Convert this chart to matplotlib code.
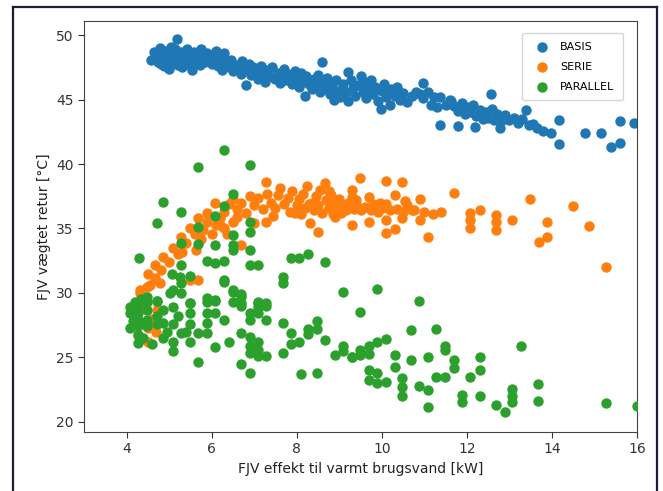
import matplotlib
matplotlib.use("Agg")
import matplotlib.pyplot as plt
from matplotlib.lines import Line2D

# ---------------- data ----------------
basis_x = [4.57, 4.72, 4.75, 4.78, 4.85, 4.88, 4.90, 4.95, 5.00, 5.02, 5.05, 5.10, 5.12, 5.15, 5.19,
           5.20, 5.22, 5.28, 5.30, 5.35, 5.38, 5.42, 5.45, 5.50, 5.55, 5.58, 5.62, 5.68, 5.72, 5.75,
           5.80, 5.85, 5.88, 5.92, 6.00, 6.05, 6.10, 6.15, 6.20, 6.25, 6.28, 6.32, 6.40, 6.45, 6.50,
           6.55, 6.62, 6.68, 6.72, 6.80, 6.82, 6.88, 6.92, 6.98, 7.05, 7.10, 7.15, 7.20, 7.25, 7.30,
           7.35, 7.42, 7.48, 7.55, 7.60, 7.65, 7.70, 7.75, 7.80, 7.86, 7.90, 7.95, 8.00, 8.05, 8.10,
           8.15, 8.19, 8.22, 8.28, 8.35, 8.40, 8.45, 8.50, 8.55, 8.60, 8.62, 8.68, 8.72, 8.78, 8.82,
           8.88, 8.92, 8.98, 9.02, 9.10, 9.15, 9.21, 9.21, 9.28, 9.32, 9.38, 9.45, 9.50, 9.55, 9.60,
           9.62, 9.68, 9.75, 9.80, 9.85, 9.92, 9.99, 10.00, 10.05, 10.10, 10.19, 10.22, 10.30, 10.35, 10.42,
           10.50, 10.60, 10.70, 10.81, 10.90, 10.97, 10.97, 11.08, 11.15, 11.22, 11.30, 11.36, 11.36, 11.50, 11.60,
           11.62, 11.70, 11.79, 11.80, 11.88, 11.95, 12.00, 12.08, 12.15, 12.18, 12.22, 12.30, 12.38, 12.45, 12.50,
           12.57, 12.60, 12.65, 12.72, 12.77, 12.80, 12.90, 13.00, 13.10, 13.20, 13.30, 13.40, 13.45, 13.55, 13.65,
           13.79, 13.98, 14.17, 14.17, 14.77, 15.16, 15.39, 15.59, 15.59, 15.94, 4.65, 4.82, 5.25, 5.65, 6.35]
basis_y = [48.1, 48.5, 47.9, 49.0, 48.3, 47.6, 48.8, 48.1, 47.4, 48.6, 49.1, 47.9, 48.4, 48.9, 49.74,
           47.7, 48.2, 48.7, 47.5, 48.0, 48.5, 48.9, 47.8, 48.3, 47.3, 48.7, 48.0, 48.5, 47.7, 48.9,
           48.2, 47.9, 48.6, 48.1, 47.8, 48.4, 48.8, 47.6, 48.2, 47.3, 48.6, 47.9, 47.5, 48.1, 47.2,
           47.7, 47.5, 47.0, 48.0, 46.1, 47.4, 47.8, 46.9, 47.5, 47.1, 46.6, 47.6, 47.0, 46.4, 47.3,
           46.8, 47.5, 46.6, 47.1, 46.3, 46.9, 47.4, 46.5, 47.0, 46.7, 46.2, 47.2, 46.6, 46.0, 47.1,
           46.4, 45.3, 46.8, 46.2, 45.8, 46.6, 46.0, 46.9, 45.6, 47.9, 46.3, 45.9, 46.7, 45.4, 46.1,
           45.0, 46.5, 45.7, 45.2, 46.2, 45.6, 47.15, 44.9, 46.5, 45.9, 45.3, 46.1, 46.8, 45.6, 46.4,
           45.1, 45.8, 46.5, 45.4, 46.0, 44.9, 44.24, 45.7, 46.2, 45.2, 44.57, 45.8, 45.3, 46.0, 45.0,
           45.5, 44.8, 45.3, 45.6, 45.4, 46.26, 45.1, 45.6, 44.6, 45.2, 44.4, 43.02, 45.2, 44.6, 44.96,
           44.9, 44.5, 42.95, 44.1, 44.7, 43.9, 44.4, 44.0, 44.6, 42.84, 43.7, 44.2, 43.5, 44.0, 43.6,
           45.43, 44.3, 43.4, 43.9, 42.76, 43.3, 43.8, 43.4, 43.6, 43.2, 43.5, 44.19, 43.0, 43.1, 42.8,
           42.6, 42.4, 43.4, 41.53, 42.4, 42.4, 41.3, 41.6, 43.3, 43.15, 48.7, 47.8, 48.3, 48.3, 48.0]

serie_x = [4.28, 4.51, 4.71, 4.32, 4.55, 4.78, 4.32, 4.47, 4.40, 4.60, 4.50, 4.70, 4.67, 4.67, 4.86,
           5.10, 5.29, 5.49, 5.69, 5.88, 6.08, 4.50, 4.80, 5.00, 5.20, 5.64, 5.49, 5.69, 5.40, 5.60,
           5.80, 5.90, 6.00, 6.10, 6.19, 6.20, 6.30, 6.35, 6.30, 6.40, 6.50, 6.60, 6.70, 6.70, 6.80,
           6.90, 7.00, 7.10, 7.20, 7.29, 7.29, 7.30, 7.40, 7.50, 7.55, 7.60, 7.70, 7.80, 7.85, 7.90,
           8.00, 8.05, 8.10, 8.15, 8.20, 8.25, 8.31, 8.35, 8.40, 8.45, 8.50, 8.50, 8.55, 8.60, 8.66,
           8.70, 8.75, 8.80, 8.85, 8.89, 8.90, 8.95, 9.00, 9.05, 9.10, 9.15, 9.20, 9.29, 9.29, 9.29,
           9.35, 9.40, 9.48, 9.50, 9.60, 9.70, 9.70, 9.75, 9.80, 9.90, 10.00, 10.09, 10.09, 10.09, 10.10,
           10.20, 10.30, 10.30, 10.35, 10.48, 10.48, 10.50, 10.60, 10.70, 10.76, 10.89, 10.89, 11.00, 11.09, 11.20,
           11.40, 11.69, 12.08, 12.08, 12.08, 12.30, 12.68, 12.68, 12.68, 13.07, 13.49, 13.88, 13.88, 13.69, 14.49,
           14.87, 15.27, 6.50, 6.60, 7.00, 7.45, 7.95, 8.30, 8.75, 9.00, 9.40, 9.95, 10.55, 5.30, 5.75]
serie_y = [26.74, 26.22, 28.68, 30.23, 30.60, 30.75, 29.98, 30.49, 29.3, 28.0, 27.3, 27.0, 31.14, 32.17, 32.81,
           33.46, 34.36, 35.00, 35.80, 36.17, 36.95, 31.5, 31.8, 32.4, 33.0, 33.33, 31.0, 31.0, 33.9, 34.6,
           34.9, 35.5, 34.6, 35.3, 35.3, 35.8, 35.0, 34.6, 36.3, 36.9, 37.3, 36.5, 33.72, 37.0, 36.2,
           37.5, 36.8, 37.4, 36.5, 38.63, 35.53, 37.7, 37.0, 36.6, 37.6, 38.1, 36.9, 37.4, 36.3, 37.9,
           36.8, 37.3, 36.1, 37.7, 36.6, 38.3, 35.4, 37.0, 36.4, 37.5, 34.75, 36.8, 38.0, 36.2, 38.5,
           37.2, 36.6, 37.6, 36.1, 35.9, 37.0, 36.5, 37.3, 36.2, 36.8, 36.4, 37.0, 37.98, 37.47, 35.27,
           36.5, 36.9, 38.89, 36.4, 36.7, 37.47, 35.53, 36.4, 36.9, 36.3, 36.6, 38.68, 35.66, 34.67, 36.9,
           36.4, 37.6, 34.96, 36.5, 38.58, 35.79, 36.3, 36.8, 36.4, 36.43, 37.3, 35.66, 36.3, 34.32, 36.1,
           36.3, 37.73, 36.2, 35.66, 35.0, 36.43, 36.04, 35.53, 34.88, 35.66, 37.26, 35.53, 34.32, 33.98, 36.74,
           35.19, 31.99, 35.5, 35.9, 35.4, 36.0, 36.2, 36.9, 37.9, 36.7, 37.2, 37.0, 37.1, 33.2, 34.2]

parallel_x = [5.69, 6.29, 6.90, 4.86, 4.71, 5.29, 4.30, 6.51, 6.29, 6.08, 5.69, 6.90, 6.90, 6.51, 5.29,
              5.69, 6.08, 6.51, 6.51, 6.90, 5.88, 6.08, 6.29, 5.29, 6.90, 7.09, 7.87, 8.06, 8.27, 8.66,
              5.06, 5.25, 5.49, 6.29, 7.68, 7.68, 6.51, 6.70, 6.51, 6.70, 5.88, 6.08, 5.88, 7.09, 7.29,
              7.09, 9.09, 4.20, 4.35, 4.47, 4.71, 5.02, 5.49, 4.08, 4.08, 4.08, 4.28, 4.28, 4.28, 4.28,
              4.28, 4.28, 4.47, 4.47, 4.47, 4.47, 4.71, 4.71, 4.71, 4.86, 4.86, 5.10, 5.10, 5.10, 4.86,
              5.10, 5.10, 5.29, 5.29, 5.49, 5.49, 5.49, 5.29, 5.49, 5.69, 5.88, 5.88, 5.88, 6.08, 6.08,
              5.69, 6.08, 6.29, 6.29, 6.70, 6.51, 6.70, 6.90, 7.09, 7.09, 7.29, 6.90, 7.29, 6.90, 6.90,
              6.90, 7.09, 7.09, 7.29, 7.09, 6.70, 6.70, 6.90, 7.68, 7.68, 7.87, 8.06, 7.87, 8.27, 8.47,
              8.47, 8.27, 8.66, 8.09, 8.48, 8.89, 9.09, 9.29, 9.48, 9.89, 9.48, 10.88, 9.09, 9.29, 9.48,
              9.70, 9.89, 10.09, 9.70, 10.68, 11.28, 10.30, 10.68, 11.09, 11.48, 11.48, 11.69, 11.69, 12.30, 12.30,
              12.08, 13.28, 9.70, 9.89, 9.70, 9.89, 10.09, 10.30, 10.48, 10.48, 10.48, 10.88, 11.09, 11.09, 11.28,
              11.48, 11.89, 11.89, 12.30, 12.68, 12.89, 13.07, 13.07, 13.07, 13.68, 13.68, 15.27, 16.00, 4.15, 4.38,
              4.60, 4.95, 5.20, 5.40, 6.40]
parallel_y = [39.79, 41.09, 39.92, 37.08, 35.40, 36.30, 32.74, 37.67, 36.74, 35.97, 35.14, 35.53, 34.75, 34.50, 33.85,
              33.80, 33.72, 33.70, 33.30, 33.33, 32.50, 32.30, 32.50, 32.17, 32.17, 32.17, 32.70, 32.70, 33.00, 32.40,
              31.50, 31.20, 31.30, 31.00, 31.26, 30.75, 30.10, 29.70, 29.30, 29.00, 29.60, 29.40, 29.30, 29.30, 29.00,
              28.90, 30.10, 29.30, 29.50, 29.30, 29.40, 29.98, 29.20, 28.94, 28.43, 27.26, 28.94, 28.40, 27.90, 27.40,
              26.70, 26.10, 29.70, 28.70, 27.90, 27.40, 29.40, 28.20, 27.60, 28.68, 27.65, 30.20, 28.90, 27.60, 26.50,
              26.20, 25.45, 30.00, 30.75, 29.20, 28.40, 27.60, 26.90, 26.20, 26.90, 26.90, 27.65, 28.43, 29.46, 28.43,
              24.60, 25.79, 30.88, 27.90, 29.90, 30.20, 29.20, 28.40, 29.20, 28.40, 29.20, 27.90, 27.90, 26.60, 25.90,
              25.30, 26.20, 25.60, 25.10, 25.10, 26.90, 24.50, 23.80, 27.65, 25.30, 26.90, 26.20, 26.00, 27.20, 27.80,
              27.20, 26.80, 26.36, 23.70, 23.80, 25.20, 25.50, 25.00, 25.20, 30.28, 28.55, 29.40, 25.84, 25.00, 25.53,
              25.84, 26.15, 26.40, 25.27, 27.08, 27.18, 25.19, 24.75, 25.00, 25.84, 25.60, 24.75, 24.15, 25.00, 23.98,
              23.50, 25.90, 24.03, 23.78, 23.20, 22.99, 23.05, 24.24, 23.38, 22.69, 22.00, 22.79, 22.43, 21.14, 23.46,
              23.46, 22.09, 21.50, 22.00, 21.32, 20.72, 22.53, 22.00, 21.50, 22.95, 21.57, 21.45, 21.20, 27.80, 26.50,
              26.00, 27.00, 28.20, 27.00, 26.20]

x_ticks = [4, 6, 8, 10, 12, 14, 16]
y_ticks = [20, 25, 30, 35, 40, 45, 50]
labels = ["BASIS", "SERIE", "PARALLEL"]
colors = ["#1f77b4", "#ff7f0e", "#2ca02c"]

# ---------------- figure ----------------
fig = plt.figure(figsize=(6.63, 4.91), dpi=100)
ax = fig.add_axes([84 / 663, 1 - 432 / 491, (637 - 84) / 663, (432 - 21) / 491])

ms = 42
ax.scatter(basis_x, basis_y, s=ms, color=colors[0], label=labels[0], zorder=2)
ax.scatter(serie_x, serie_y, s=ms, color=colors[1], label=labels[1], zorder=3)
ax.scatter(parallel_x, parallel_y, s=ms, color=colors[2], label=labels[2], zorder=4)

ax.set_xlim(3.0, 16.0)
ax.set_ylim(19.2, 51.1)
ax.set_xticks(x_ticks)
ax.set_yticks(y_ticks)
ax.tick_params(labelsize=10, colors="#333333", length=4)
for sp in ax.spines.values():
    sp.set_color("#444444")

ax.set_xlabel("FJV effekt til varmt brugsvand [kW]", fontsize=10, color="#222222")
ax.set_ylabel("FJV vægtet retur [°C]", fontsize=10, color="#222222")

leg = ax.legend(loc="upper right", fontsize=8, markerscale=1.0, frameon=True,
                borderpad=0.8, labelspacing=0.9, handletextpad=0.6,
                bbox_to_anchor=(0.985, 0.985))
leg.get_frame().set_edgecolor("#cccccc")

# outer frame of the screenshot
frame_col = "#1c1c3a"
fig.add_artist(Line2D([13 / 663, 13 / 663], [0, 1 - 7 / 491], transform=fig.transFigure, color=frame_col, lw=1.6))
fig.add_artist(Line2D([657 / 663, 657 / 663], [0, 1 - 7 / 491], transform=fig.transFigure, color=frame_col, lw=1.6))
fig.add_artist(Line2D([13 / 663, 657 / 663], [1 - 7 / 491, 1 - 7 / 491], transform=fig.transFigure, color=frame_col, lw=1.6))

fig.savefig("out.png", dpi=100)
